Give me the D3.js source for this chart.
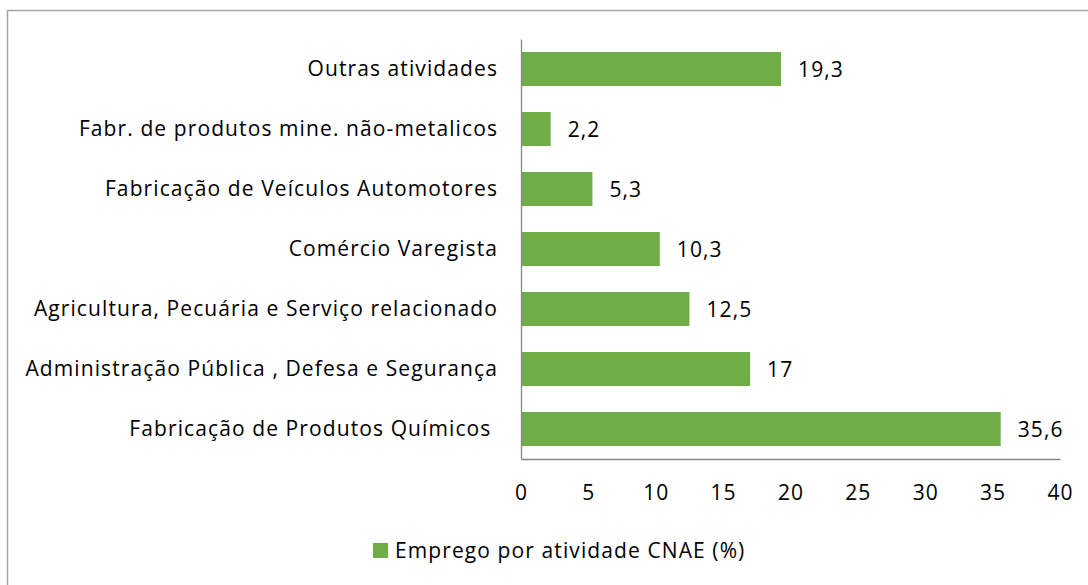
<!DOCTYPE html>
<html><head><meta charset="utf-8">
<script src="https://cdn.jsdelivr.net/npm/d3@7/dist/d3.min.js"></script>
<style>body{margin:0;background:#fff}svg{display:block}text{white-space:pre}</style>
</head><body>
<script>
const categories = ["Outras atividades","Fabr. de produtos mine. não-metalicos","Fabricação de Veículos Automotores","Comércio Varegista","Agricultura, Pecuária e Serviço relacionado","Administração Pública , Defesa e Segurança","Fabricação de Produtos Químicos "];
const values = [19.3, 2.2, 5.3, 10.3, 12.5, 17, 35.6];
const valueLabels = ["19,3","2,2","5,3","10,3","12,5","17","35,6"];
const xTicks = [0,5,10,15,20,25,30,35,40];
const seriesName = "Emprego por atividade CNAE (%)";

const W = 1088, H = 585;
const FONT = "'Open Sans', sans-serif";
const FS = 21;
const LS = "1.1px";
const svg = d3.select("body").append("svg").attr("width", W).attr("height", H);

svg.append("rect").attr("x",7.5).attr("y",10.5).attr("width",1100).attr("height",600)
  .attr("fill","#fff").attr("stroke","#a6a6a6").attr("stroke-width",1.5);

const x = d3.scaleLinear().domain([0,40]).range([521,1060]);
const y = d3.scaleBand().domain(categories).range([39,459]).paddingInner(0.433).paddingOuter(0.2165);

svg.selectAll("rect.bar").data(categories).join("rect").attr("class","bar")
  .attr("x", x(0)).attr("y", d=>y(d)).attr("height", y.bandwidth())
  .attr("width", (d,i)=>x(values[i])-x(0)).attr("fill","#70ad47");

const style = sel => sel.attr("font-family",FONT).attr("font-size",FS).attr("fill","#000").attr("letter-spacing",LS);

const yAxis = d3.axisLeft(y).tickSize(0).tickPadding(23);
const gy = svg.append("g").attr("transform",`translate(${x(0)},0)`).call(yAxis);
gy.select(".domain").attr("stroke","#868686").attr("stroke-width",1.3);
gy.selectAll("text").call(style).attr("dy","0.34em");

const xAxis = d3.axisBottom(x).tickValues(xTicks).tickSize(0).tickPadding(26).tickFormat(d=>d);
const gx = svg.append("g").attr("transform",`translate(0,459)`).call(xAxis);
gx.select(".domain").attr("stroke","#868686").attr("stroke-width",1.3);
gx.selectAll("text").call(style);

svg.selectAll("text.val").data(categories).join("text").attr("class","val")
  .attr("x",(d,i)=>x(values[i])+17).attr("y",d=>y(d)+y.bandwidth()/2).attr("dy","0.36em")
  .call(style).text((d,i)=>valueLabels[i]);

svg.append("rect").attr("x",373).attr("y",543).attr("width",15).attr("height",15).attr("fill","#70ad47");
svg.append("text").attr("x",395).attr("y",550.5).attr("dy","0.36em").call(style).text(seriesName);
</script>
</body></html>
